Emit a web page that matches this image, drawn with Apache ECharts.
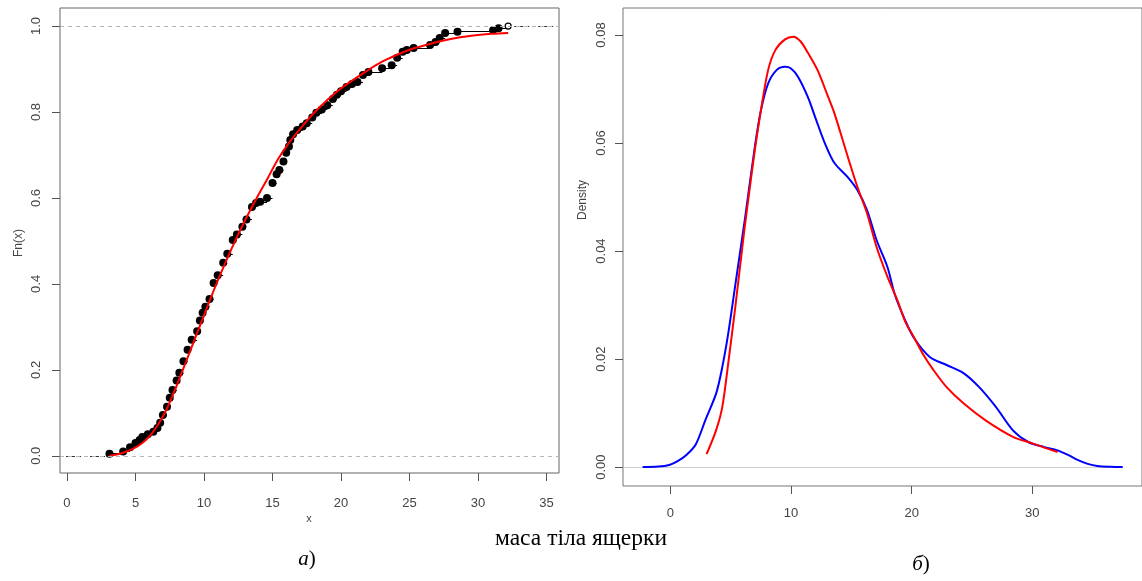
<!DOCTYPE html>
<html>
<head>
<meta charset="utf-8">
<script src="https://cdn.jsdelivr.net/npm/echarts@6/dist/echarts.min.js"></script>
<style>
html,body{margin:0;padding:0;background:#fff;}
#c{width:1142px;height:581px;}
</style>
</head>
<body>
<div id="c"></div>
<script>
// ---------- DATA ----------
// Panel а: empirical CDF points (x, Fn(x))
const ecdfX = [3.1,4.1,4.6,5.0,5.3,5.5,5.9,6.3,6.6,6.8,7.0,7.3,7.5,7.7,8.0,8.2,8.5,8.8,9.1,9.5,9.7,9.9,10.1,10.4,10.7,11.0,11.4,11.7,12.1,12.4,12.8,13.1,13.5,13.8,14.1,14.6,15.0,15.3,15.5,15.8,16.0,16.2,16.3,16.5,16.8,17.2,17.5,17.9,18.2,18.6,19.0,19.4,19.7,20.0,20.4,20.8,21.2,21.6,22.0,23.0,23.7,24.1,24.5,24.8,25.3,26.5,26.9,27.2,27.6,28.5,31.1,31.5,32.2];
const ecdfY = [0.005,0.01,0.02,0.03,0.037,0.044,0.05,0.056,0.065,0.077,0.095,0.114,0.135,0.153,0.175,0.193,0.22,0.247,0.27,0.29,0.315,0.333,0.347,0.365,0.402,0.42,0.449,0.47,0.502,0.515,0.533,0.55,0.579,0.588,0.591,0.6,0.635,0.655,0.665,0.685,0.705,0.72,0.735,0.748,0.758,0.766,0.774,0.787,0.798,0.806,0.816,0.83,0.84,0.848,0.858,0.865,0.87,0.886,0.893,0.902,0.909,0.926,0.94,0.944,0.949,0.956,0.963,0.972,0.984,0.987,0.99,0.995,1.0];
// Panel а: fitted CDF (red)
const cdfFitX = [3.1,4.0,4.8,5.5,6.1,6.7,7.3,8.0,8.7,9.4,10.1,10.8,11.5,12.2,13.0,13.8,14.6,15.4,16.2,17.0,18.0,19.0,20.0,21.0,22.0,23.0,24.0,25.0,26.0,27.0,28.0,29.0,30.0,31.0,32.2];
const cdfFitY = [0.0,0.006,0.016,0.03,0.048,0.075,0.11,0.163,0.22,0.278,0.335,0.392,0.445,0.495,0.548,0.597,0.643,0.69,0.728,0.76,0.797,0.828,0.855,0.877,0.898,0.917,0.932,0.945,0.954,0.963,0.97,0.975,0.979,0.982,0.984];
// Panel б: kernel density (blue)
const kdeX = [-2.3,-1.0,-0.1,0.6,1.3,2.1,2.9,3.8,4.3,4.8,5.4,6.2,7.0,7.5,8.1,8.8,9.5,10.0,10.6,11.4,12.0,12.8,13.6,14.7,15.5,16.3,17.1,18.0,18.6,19.4,20.2,21.5,22.9,24.3,25.6,27.0,28.4,29.7,31.0,32.1,33.0,33.8,34.6,35.4,36.5,37.5];
const kdeY = [0.0,0.0001,0.0004,0.0011,0.0022,0.0042,0.0087,0.0137,0.0185,0.0248,0.034,0.0463,0.0593,0.066,0.071,0.0735,0.0741,0.0738,0.0722,0.0685,0.0648,0.06,0.0563,0.0537,0.0513,0.0476,0.042,0.037,0.032,0.0275,0.0239,0.0204,0.0189,0.0174,0.0148,0.0111,0.0068,0.0046,0.0037,0.0031,0.0022,0.0013,0.0006,0.0002,0.00005,0.0];
// Panel б: fitted density (red)
const fitDensX = [3.0,3.8,4.3,4.8,5.4,6.1,6.6,7.0,7.5,8.1,8.7,9.5,10.2,10.8,11.4,12.2,13.0,13.6,14.7,15.5,16.3,17.1,18.0,18.8,19.5,20.2,21.0,21.8,22.9,24.3,26.1,28.4,30.0,31.0,32.1];
const fitDensY = [0.0024,0.0069,0.0111,0.0193,0.03,0.0433,0.052,0.0587,0.066,0.0735,0.0772,0.0792,0.0797,0.0788,0.0767,0.0735,0.069,0.0655,0.0575,0.0519,0.047,0.0407,0.0352,0.031,0.0268,0.024,0.0207,0.018,0.0148,0.0118,0.0087,0.0056,0.0044,0.0036,0.0028];
// Tick labels
const xTicksA = [0,5,10,15,20,25,30,35];
const yTicksA = [0,0.2,0.4,0.6,0.8,1.0];
const xTicksB = [0,10,20,30];
const yTicksB = [0,0.02,0.04,0.06,0.08];
// Texts
const caption = 'маса тіла ящерки';
const yNameA = 'Fn(x)';
const xNameA = 'x';
const yNameB = 'Density';

// ---------- AXIS RANGES ----------
const A_XMIN = -0.51, A_XMAX = 35.91, A_YMIN = -0.04, A_YMAX = 1.042;
const B_XMIN = -3.93, B_XMAX = 39.1, B_YMIN = -0.0035, B_YMAX = 0.085;

const zip = (xs, ys) => xs.map((x, i) => [x, ys[i]]);
const FONT = '"Liberation Sans", Arial, sans-serif';
const SERIF = '"Liberation Serif", "Times New Roman", serif';

// ECDF horizontal segments
const segs = [];
segs.push({coords: [[A_XMIN, 0], [ecdfX[0], 0]], lineStyle: {type: [3, 3], color: '#333'}});
for (let i = 0; i < ecdfX.length - 1; i++) {
  segs.push({coords: [[ecdfX[i], ecdfY[i]], [ecdfX[i + 1], ecdfY[i]]]});
}
segs.push({coords: [[ecdfX[ecdfX.length - 1], 1], [A_XMAX, 1]], lineStyle: {type: [3, 3], color: '#333'}});

const ptsFilled = zip(ecdfX, ecdfY).slice(0, -1);
const ptLast = [zip(ecdfX, ecdfY)[ecdfX.length - 1]];

function xAxisCfg(idx, min, max, ticks, margin) {
  return {
    type: 'value', gridIndex: idx, min: min, max: max, position: 'bottom',
    axisLine: {show: false, onZero: false},
    splitLine: {show: false},
    axisTick: {show: true, inside: false, length: 8, customValues: ticks, lineStyle: {color: '#555'}},
    axisLabel: {customValues: ticks, margin: margin, fontSize: 13, color: '#444', fontFamily: FONT,
      formatter: v => String(v)}
  };
}
function yAxisCfg(idx, min, max, ticks, margin, dec) {
  return {
    type: 'value', gridIndex: idx, min: min, max: max, position: 'left',
    axisLine: {show: false, onZero: false},
    splitLine: {show: false},
    axisTick: {show: true, inside: false, length: 8, customValues: ticks, lineStyle: {color: '#555'}},
    axisLabel: {customValues: ticks, margin: margin, rotate: 90, fontSize: 13, color: '#444', fontFamily: FONT,
      formatter: v => v.toFixed(dec)}
  };
}

const chart = echarts.init(document.getElementById('c'), null, {renderer: 'canvas'});
chart.setOption({
  animation: false,
  backgroundColor: '#fff',
  grid: [
    {left: 60, top: 8, width: 499, height: 465, show: true, borderColor: '#666', borderWidth: 1, backgroundColor: 'transparent', containLabel: false},
    {left: 623, top: 8, width: 525, height: 478, show: true, borderColor: '#777', borderWidth: 1, backgroundColor: 'transparent', containLabel: false}
  ],
  xAxis: [
    xAxisCfg(0, A_XMIN, A_XMAX, xTicksA, 24),
    xAxisCfg(1, B_XMIN, B_XMAX, xTicksB, 21)
  ],
  yAxis: [
    yAxisCfg(0, A_YMIN, A_YMAX, yTicksA, 17, 1),
    yAxisCfg(1, B_YMIN, B_YMAX, yTicksB, 15, 2)
  ],
  series: [
    {
      type: 'line', xAxisIndex: 0, yAxisIndex: 0, data: [], silent: true,
      markLine: {symbol: 'none', silent: true, label: {show: false},
        lineStyle: {type: [4, 4], color: '#b5b5b5', width: 1},
        data: [{yAxis: 0}, {yAxis: 1}]}
    },
    {
      type: 'lines', coordinateSystem: 'cartesian2d', xAxisIndex: 0, yAxisIndex: 0,
      polyline: false, silent: true,
      lineStyle: {color: '#000', width: 1, opacity: 1},
      data: segs
    },
    {
      type: 'scatter', xAxisIndex: 0, yAxisIndex: 0, symbol: 'circle', symbolSize: 8,
      itemStyle: {color: '#000', opacity: 1}, data: ptsFilled, silent: true
    },
    {
      type: 'scatter', xAxisIndex: 0, yAxisIndex: 0, symbol: 'circle', symbolSize: 6,
      itemStyle: {color: '#fff', borderColor: '#000', borderWidth: 1.2, opacity: 1}, data: ptLast, silent: true
    },
    {
      type: 'line', xAxisIndex: 0, yAxisIndex: 0, data: zip(cdfFitX, cdfFitY), smooth: 0.3,
      symbol: 'none', lineStyle: {color: '#ff0000', width: 2}, silent: true
    },
    {
      type: 'lines', coordinateSystem: 'cartesian2d', xAxisIndex: 1, yAxisIndex: 1,
      polyline: false, silent: true,
      lineStyle: {color: '#d0d0d0', width: 1, opacity: 1},
      data: [{coords: [[B_XMIN, 0], [kdeX[kdeX.length - 1], 0]]}]
    },
    {
      type: 'line', xAxisIndex: 1, yAxisIndex: 1, data: zip(kdeX, kdeY), smooth: 0.3,
      symbol: 'none', lineStyle: {color: '#0000ff', width: 2}, silent: true
    },
    {
      type: 'line', xAxisIndex: 1, yAxisIndex: 1, data: zip(fitDensX, fitDensY), smooth: 0.3,
      symbol: 'none', lineStyle: {color: '#ff0000', width: 2}, silent: true
    }
  ],
  graphic: [
    {type: 'text', x: 19, y: 243, rotation: Math.PI / 2,
      style: {text: yNameA, font: '12px ' + FONT, fill: '#444', align: 'center', verticalAlign: 'middle'}},
    {type: 'text', x: 309, y: 519,
      style: {text: xNameA, font: '11px ' + FONT, fill: '#444', align: 'center', verticalAlign: 'middle'}},
    {type: 'text', x: 583, y: 200, rotation: Math.PI / 2,
      style: {text: yNameB, font: '12px ' + FONT, fill: '#444', align: 'center', verticalAlign: 'middle'}},
    {type: 'text', x: 581, y: 539,
      style: {text: caption, font: '23.5px ' + SERIF, fill: '#000', align: 'center', verticalAlign: 'middle'}},
    {type: 'text', x: 307, y: 559,
      style: {text: '{i|а})', font: '21px ' + SERIF, fill: '#000', align: 'center', verticalAlign: 'middle',
        rich: {i: {fontStyle: 'italic', font: 'italic 21px ' + SERIF}}}},
    {type: 'text', x: 921, y: 564,
      style: {text: '{i|б})', font: '21px ' + SERIF, fill: '#000', align: 'center', verticalAlign: 'middle',
        rich: {i: {fontStyle: 'italic', font: 'italic 21px ' + SERIF}}}}
  ]
});
</script>
</body>
</html>
